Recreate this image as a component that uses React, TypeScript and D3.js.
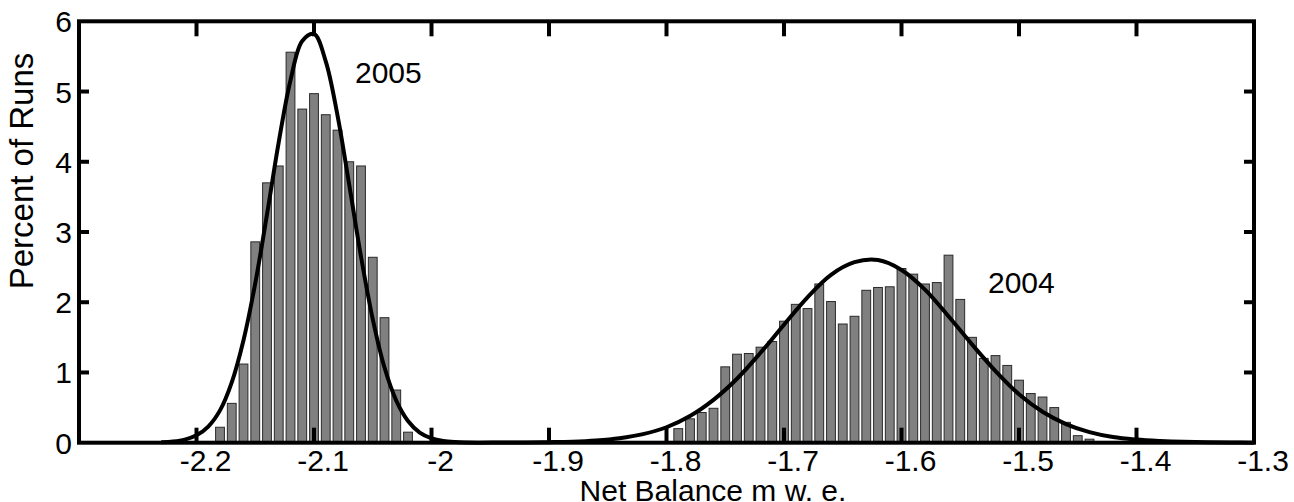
import React, { useEffect, useRef } from 'react';
import * as d3 from 'd3';

// histogram bins (0.01 wide), percent of runs
const bins2005 = [-2.18, -2.17, -2.16, -2.15, -2.14, -2.13, -2.12, -2.11, -2.10, -2.09, -2.08, -2.07, -2.06, -2.05, -2.04, -2.03, -2.02];
const pct2005 = [0.22, 0.56, 1.12, 2.86, 3.70, 3.94, 5.56, 4.75, 4.97, 4.67, 4.45, 4.00, 3.94, 2.64, 1.78, 0.75, 0.15];

const bins2004 = [-1.79, -1.78, -1.77, -1.76, -1.75, -1.74, -1.73, -1.72, -1.71, -1.70, -1.69, -1.68, -1.67, -1.66, -1.65, -1.64, -1.63, -1.62,
  -1.61, -1.60, -1.59, -1.58, -1.57, -1.56, -1.55, -1.54, -1.53, -1.52, -1.51, -1.50, -1.49, -1.48, -1.47, -1.46, -1.45, -1.44];
const pct2004 = [0.20, 0.34, 0.43, 0.49, 1.08, 1.26, 1.27, 1.36, 1.44, 1.73, 1.97, 1.91, 2.26, 2.01, 1.69, 1.80, 2.17, 2.21,
  2.22, 2.48, 2.40, 2.26, 2.28, 2.67, 2.04, 1.50, 1.20, 1.24, 1.10, 0.89, 0.70, 0.65, 0.50, 0.29, 0.10, 0.05];

// fitted curves
const fitX2005 = [-2.23, -2.22, -2.21, -2.20, -2.19, -2.18, -2.17, -2.16, -2.15, -2.14, -2.13, -2.12, -2.11, -2.10, -2.09,
  -2.08, -2.07, -2.06, -2.05, -2.04, -2.03, -2.02, -2.01, -2.00, -1.99, -1.98, -1.97, -1.96];
const fitY2005 = [0.006, 0.017, 0.044, 0.105, 0.23, 0.46, 0.86, 1.46, 2.27, 3.25, 4.28, 5.16, 5.72, 5.82, 5.43,
  4.66, 3.67, 2.65, 1.76, 1.07, 0.60, 0.31, 0.145, 0.063, 0.025, 0.009, 0.003, 0.001];

const fitX2004 = [-1.96, -1.94, -1.92, -1.90, -1.88, -1.86, -1.84, -1.82, -1.80, -1.78, -1.76, -1.74, -1.72, -1.70, -1.68, -1.66, -1.64,
  -1.62, -1.60, -1.58, -1.56, -1.54, -1.52, -1.50, -1.48, -1.46, -1.44, -1.42, -1.40, -1.38, -1.36, -1.34, -1.32, -1.30];
const fitY2004 = [0.001, 0.002, 0.004, 0.008, 0.015, 0.032, 0.064, 0.122, 0.22, 0.38, 0.61, 0.91, 1.28, 1.68, 2.07, 2.39, 2.57,
  2.60, 2.46, 2.18, 1.80, 1.40, 1.02, 0.69, 0.44, 0.265, 0.15, 0.08, 0.045, 0.025, 0.012, 0.005, 0.002, 0.001];

const xTicks = [-2.2, -2.1, -2.0, -1.9, -1.8, -1.7, -1.6, -1.5, -1.4, -1.3];
const xTickLabels = ['-2.2', '-2.1', '-2', '-1.9', '-1.8', '-1.7', '-1.6', '-1.5', '-1.4', '-1.3'];
const yTicks = [0, 1, 2, 3, 4, 5, 6];
const yTickLabels = ['0', '1', '2', '3', '4', '5', '6'];

const W = 1294;
const H = 502;
const FONT = '"Liberation Sans", Arial, Helvetica, sans-serif';

export default function App() {
  const svgRef = useRef<SVGSVGElement>(null);

  useEffect(() => {
    const svg = d3.select(svgRef.current);
    svg.selectAll('*').remove();

    const x = d3.scaleLinear().domain([-2.3, -1.3]).range([79, 1254]);
    const y = d3.scaleLinear().domain([0, 6]).range([442.7, 21.3]);
    const barW = 0.0075;

    // bars
    const drawBars = (centers: number[], vals: number[]) => {
      svg.append('g')
        .selectAll('rect')
        .data(centers.map((c, i) => ({ c, v: vals[i] })))
        .enter()
        .append('rect')
        .attr('x', d => x(d.c - barW / 2))
        .attr('y', d => y(d.v))
        .attr('width', x(barW) - x(0))
        .attr('height', d => y(0) - y(d.v))
        .attr('fill', '#808080')
        .attr('stroke', '#2a2a2a')
        .attr('stroke-width', 1);
    };
    drawBars(bins2005, pct2005);
    drawBars(bins2004, pct2004);

    // fitted curves
    const line = d3.line<[number, number]>()
      .x(d => x(d[0]))
      .y(d => y(d[1]))
      .curve(d3.curveCatmullRom);

    [[fitX2005, fitY2005], [fitX2004, fitY2004]].forEach(([xs, ys]) => {
      svg.append('path')
        .datum(xs.map((v, i) => [v, ys[i]] as [number, number]))
        .attr('fill', 'none')
        .attr('stroke', '#000')
        .attr('stroke-width', 4)
        .attr('d', line);
    });

    // axes box + inward ticks
    const axes = svg.append('g').attr('stroke', '#000').attr('stroke-width', 4);
    axes.append('rect')
      .attr('x', x(-2.3)).attr('y', y(6))
      .attr('width', x(-1.3) - x(-2.3)).attr('height', y(0) - y(6))
      .attr('fill', 'none');

    xTicks.slice(0, -1).forEach(t => {
      axes.append('line').attr('x1', x(t)).attr('x2', x(t)).attr('y1', y(0)).attr('y2', y(0) - 15);
      axes.append('line').attr('x1', x(t)).attr('x2', x(t)).attr('y1', y(6)).attr('y2', y(6) + 15);
    });
    yTicks.slice(1, -1).forEach(t => {
      axes.append('line').attr('x1', x(-2.3)).attr('x2', x(-2.3) + 10).attr('y1', y(t)).attr('y2', y(t));
      axes.append('line').attr('x1', x(-1.3)).attr('x2', x(-1.3) - 10).attr('y1', y(t)).attr('y2', y(t));
    });

    // tick labels
    const txt = svg.append('g').attr('font-family', FONT).attr('font-size', 30).attr('fill', '#000');
    xTicks.forEach((t, i) => {
      txt.append('text')
        .attr('x', x(t) + 9)
        .attr('y', 471)
        .attr('text-anchor', 'middle')
        .text(xTickLabels[i]);
    });
    yTicks.forEach((t, i) => {
      txt.append('text')
        .attr('x', 72)
        .attr('y', y(t) + 11)
        .attr('text-anchor', 'end')
        .text(yTickLabels[i]);
    });

    // axis titles
    txt.append('text')
      .attr('x', 713)
      .attr('y', 501)
      .attr('font-size', 30)
      .attr('text-anchor', 'middle')
      .text('Net Balance m w. e.');
    txt.append('text')
      .attr('transform', 'translate(33,171) rotate(-90)')
      .attr('font-size', 33)
      .attr('text-anchor', 'middle')
      .text('Percent of Runs');

    // year labels
    txt.append('text').attr('x', 355).attr('y', 83).text('2005');
    txt.append('text').attr('x', 988).attr('y', 293).text('2004');
  }, []);

  return (
    <div style={{ position: 'absolute', left: 0, top: 0, width: W, height: H, background: '#fff' }}>
      <svg ref={svgRef} width={W} height={H} style={{ display: 'block' }} />
    </div>
  );
}
